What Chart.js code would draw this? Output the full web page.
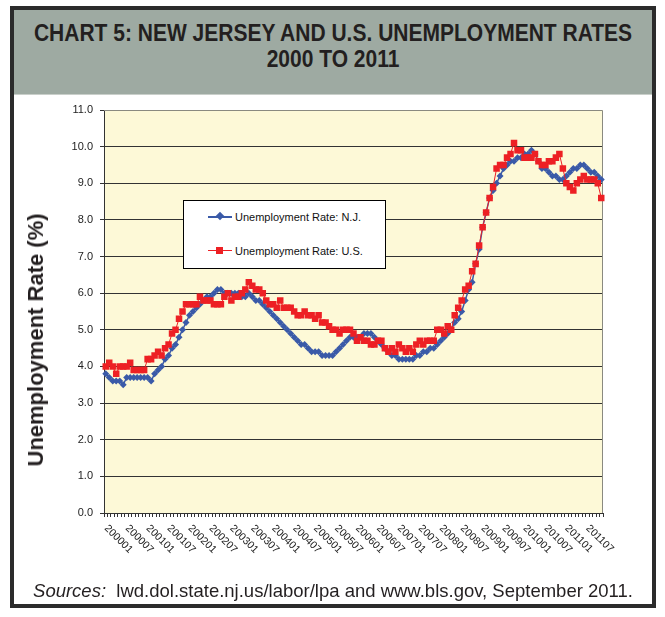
<!DOCTYPE html>
<html>
<head>
<meta charset="utf-8">
<script src="https://cdn.jsdelivr.net/npm/chart.js@4.4.1/dist/chart.umd.min.js"></script>
<style>
  body { margin: 0; background: #fff; width: 665px; height: 617px; overflow: hidden; position: relative; font-family: "Liberation Sans", Arial, sans-serif; }
  #frame { position: absolute; left: 10px; top: 6px; width: 638px; height: 594px; border: 4px solid #2b2b2b; }
  #head { position: absolute; left: 14px; top: 10px; width: 638px; height: 85px; background: #9eaaa2; border-bottom: 1px solid #c9cfca;
          color: #231f20; font-weight: bold; font-size: 24px; line-height: 26px; text-align: center; padding-top: 10px; box-sizing: border-box; overflow: hidden; }
  #head div { width: 760px; margin-left: -61px; white-space: nowrap; transform: scaleX(0.875); transform-origin: 50% 50%; }
  #chart { position: absolute; left: 0; top: 0; }
  #ytitle { position: absolute; left: 36px; top: 340px; transform: translate(-50%, -50%) rotate(-90deg);
            white-space: nowrap; font-weight: bold; font-size: 22px; color: #231f20; }
  #legend { position: absolute; left: 183px; top: 200px; width: 201px; height: 67px; background: #fff; border: 1px solid #000;
            font-size: 11px; color: #111; }
  .item { position: absolute; left: 24px; height: 12px; width: 170px; }
  .item .ln { position: absolute; left: 0; top: 6px; width: 24px; height: 0; }
  .item .mk { position: absolute; }
  .item span { position: absolute; left: 27px; top: 0; line-height: 12px; white-space: nowrap; }
  #src { position: absolute; left: 14px; width: 638px; top: 580px; text-align: center; font-size: 18.5px; color: #231f20; white-space: nowrap; }
</style>
</head>
<body>
<div id="frame"></div>
<div id="head"><div>CHART 5: NEW JERSEY AND U.S. UNEMPLOYMENT RATES</div><div>2000 TO 2011</div></div>
<canvas id="chart" width="665" height="617"></canvas>
<div id="ytitle">Unemployment Rate (%)</div>
<div id="legend">
  <div class="item" style="top:10px">
    <div class="ln" style="border-top:2px solid #3a5aa8;top:5px"></div>
    <div class="mk" style="left:9px;top:2px;width:6px;height:6px;background:#3a5aa8;transform:rotate(45deg)"></div>
    <span>Unemployment Rate: N.J.</span>
  </div>
  <div class="item" style="top:44px">
    <div class="ln" style="border-top:1px solid #ed2024;top:5px"></div>
    <div class="mk" style="left:8px;top:2px;width:7px;height:7px;background:#ed2024"></div>
    <span>Unemployment Rate: U.S.</span>
  </div>
</div>
<div id="src"><i>Sources:</i>&nbsp; lwd.dol.state.nj.us/labor/lpa and www.bls.gov, September 2011.</div>

<script>
// monthly categories 200001 .. 201111
const months = [];
for (let k = 0; k < 143; k++) {
  const y = 2000 + Math.floor(k / 12), m = (k % 12) + 1;
  months.push(String(y) + (m < 10 ? '0' : '') + m);
}

const tickLabels = ['200001','200007','200101','200107','200201','200207','200301','200307',
  '200401','200407','200501','200507','200601','200607','200701','200707',
  '200801','200807','200901','200907','201001','201007','201101','201107'];

const yTicks = [0,1,2,3,4,5,6,7,8,9,10,11];

// Unemployment Rate: N.J.
const njRate = [
  3.8,3.7,3.6,3.6,3.6,3.5,3.7,3.7,3.7,3.7,3.7,3.7,
  3.7,3.6,3.8,3.9,4.0,4.2,4.3,4.5,4.6,4.8,5.0,5.2,
  5.4,5.5,5.6,5.7,5.8,5.9,5.9,6.0,6.1,6.1,6.0,6.0,
  6.0,6.0,6.0,5.9,5.9,6.0,5.9,5.8,5.8,5.7,5.6,5.5,
  5.4,5.3,5.2,5.1,5.0,4.9,4.8,4.7,4.6,4.6,4.5,4.4,
  4.4,4.4,4.3,4.3,4.3,4.3,4.4,4.5,4.6,4.7,4.8,4.8,
  4.8,4.8,4.9,4.9,4.9,4.8,4.7,4.6,4.5,4.4,4.3,4.3,
  4.2,4.2,4.2,4.2,4.2,4.3,4.3,4.4,4.4,4.5,4.5,4.6,
  4.7,4.8,4.9,5.0,5.2,5.3,5.5,5.8,6.1,6.3,6.8,7.2,
  7.8,8.2,8.6,8.8,9.0,9.2,9.4,9.5,9.6,9.6,9.7,9.7,
  9.8,9.8,9.9,9.8,9.6,9.4,9.4,9.3,9.2,9.2,9.1,9.1,
  9.2,9.3,9.4,9.4,9.5,9.5,9.4,9.3,9.3,9.2,9.1
];

// Unemployment Rate: U.S.
const usRate = [
  4.0,4.1,4.0,3.8,4.0,4.0,4.0,4.1,3.9,3.9,3.9,3.9,
  4.2,4.2,4.3,4.4,4.3,4.5,4.6,4.9,5.0,5.3,5.5,5.7,
  5.7,5.7,5.7,5.9,5.8,5.8,5.8,5.7,5.7,5.7,5.9,6.0,
  5.8,5.9,5.9,6.0,6.1,6.3,6.2,6.1,6.1,6.0,5.8,5.7,
  5.7,5.6,5.8,5.6,5.6,5.6,5.5,5.4,5.4,5.5,5.4,5.4,
  5.3,5.4,5.2,5.2,5.1,5.0,5.0,4.9,5.0,5.0,5.0,4.9,
  4.7,4.8,4.7,4.7,4.6,4.6,4.7,4.7,4.5,4.4,4.5,4.4,
  4.6,4.5,4.4,4.5,4.4,4.6,4.7,4.6,4.7,4.7,4.7,5.0,
  5.0,4.9,5.1,5.0,5.4,5.6,5.8,6.1,6.2,6.6,6.8,7.3,
  7.8,8.2,8.6,8.9,9.4,9.5,9.5,9.7,9.8,10.1,9.9,9.9,
  9.7,9.7,9.7,9.8,9.6,9.5,9.5,9.6,9.6,9.7,9.8,9.4,
  9.0,8.9,8.8,9.0,9.1,9.2,9.1,9.1,9.1,9.0,8.6
];

const plotBg = {
  id: 'plotBg',
  beforeDraw(chart) {
    const a = chart.chartArea, ctx = chart.ctx;
    ctx.save();
    ctx.fillStyle = '#fdf9d7';
    ctx.fillRect(a.left, a.top, a.right - a.left, a.bottom - a.top);
    ctx.restore();
  },
  beforeDatasetsDraw(chart) {
    const a = chart.chartArea, ctx = chart.ctx;
    ctx.save();
    ctx.strokeStyle = '#8a8a80';
    ctx.lineWidth = 1;
    ctx.beginPath();
    ctx.moveTo(a.left, a.top + 0.5);
    ctx.lineTo(a.right - 0.5, a.top + 0.5);
    ctx.lineTo(a.right - 0.5, a.bottom);
    ctx.stroke();
    ctx.restore();
  }
};

// slanted month labels, reading downward to the right
const slantLabels = {
  id: 'slantLabels',
  afterDraw(chart) {
    const xs = chart.scales.x, ctx = chart.ctx;
    ctx.save();
    ctx.font = '10.5px "Liberation Sans", Arial, sans-serif';
    ctx.fillStyle = '#222';
    ctx.textAlign = 'left';
    ctx.textBaseline = 'top';
    tickLabels.forEach(lab => {
      const x = xs.getPixelForValue(months.indexOf(lab));
      ctx.save();
      ctx.translate(x + 4, xs.top + 10);
      ctx.rotate(Math.PI / 4);
      ctx.fillText(lab, 0, 0);
      ctx.restore();
    });
    ctx.restore();
  }
};

new Chart(document.getElementById('chart'), {
  type: 'line',
  data: {
    labels: months,
    datasets: [{
      label: 'Unemployment Rate: N.J.',
      data: njRate,
      borderColor: '#3a5aa8',
      backgroundColor: '#3a5aa8',
      borderWidth: 1.5,
      pointStyle: 'rectRot',
      pointRadius: 3.5,
      pointBorderWidth: 0,
      tension: 0,
      order: 1
    }, {
      label: 'Unemployment Rate: U.S.',
      data: usRate,
      borderColor: '#ed2024',
      backgroundColor: '#ed2024',
      borderWidth: 1,
      pointStyle: 'rect',
      pointRadius: 4.6,
      pointBorderWidth: 0,
      tension: 0,
      order: 0
    }]
  },
  options: {
    responsive: false,
    animation: false,
    devicePixelRatio: 1,
    layout: { padding: { left: 0, top: 110, right: 62, bottom: 0 } },
    plugins: { legend: { display: false }, tooltip: { enabled: false } },
    scales: {
      x: {
        offset: true,
        grid: { display: true, drawOnChartArea: false, drawTicks: true, tickLength: 4, offset: true, tickColor: '#333' },
        border: { display: true, color: '#333', width: 1 },
        ticks: { display: false, autoSkip: false },
        afterFit(s) { s.height = 104; }
      },
      y: {
        min: 0,
        max: 11,
        afterBuildTicks(s) { s.ticks = yTicks.map(v => ({ value: v })); },
        grid: {
          color: c => (c.tick && c.tick.value === 11) ? 'rgba(0,0,0,0)' : '#333',
          tickColor: '#333',
          tickLength: 4,
          lineWidth: 1
        },
        border: { display: true, color: '#333', width: 1 },
        ticks: {
          padding: 7,
          color: '#222',
          font: { family: '"Liberation Sans", Arial, sans-serif', size: 11 },
          callback: v => Number(v).toFixed(1)
        },
        afterFit(s) { s.width = 104; }
      }
    }
  },
  plugins: [plotBg, slantLabels]
});
</script>
</body>
</html>
